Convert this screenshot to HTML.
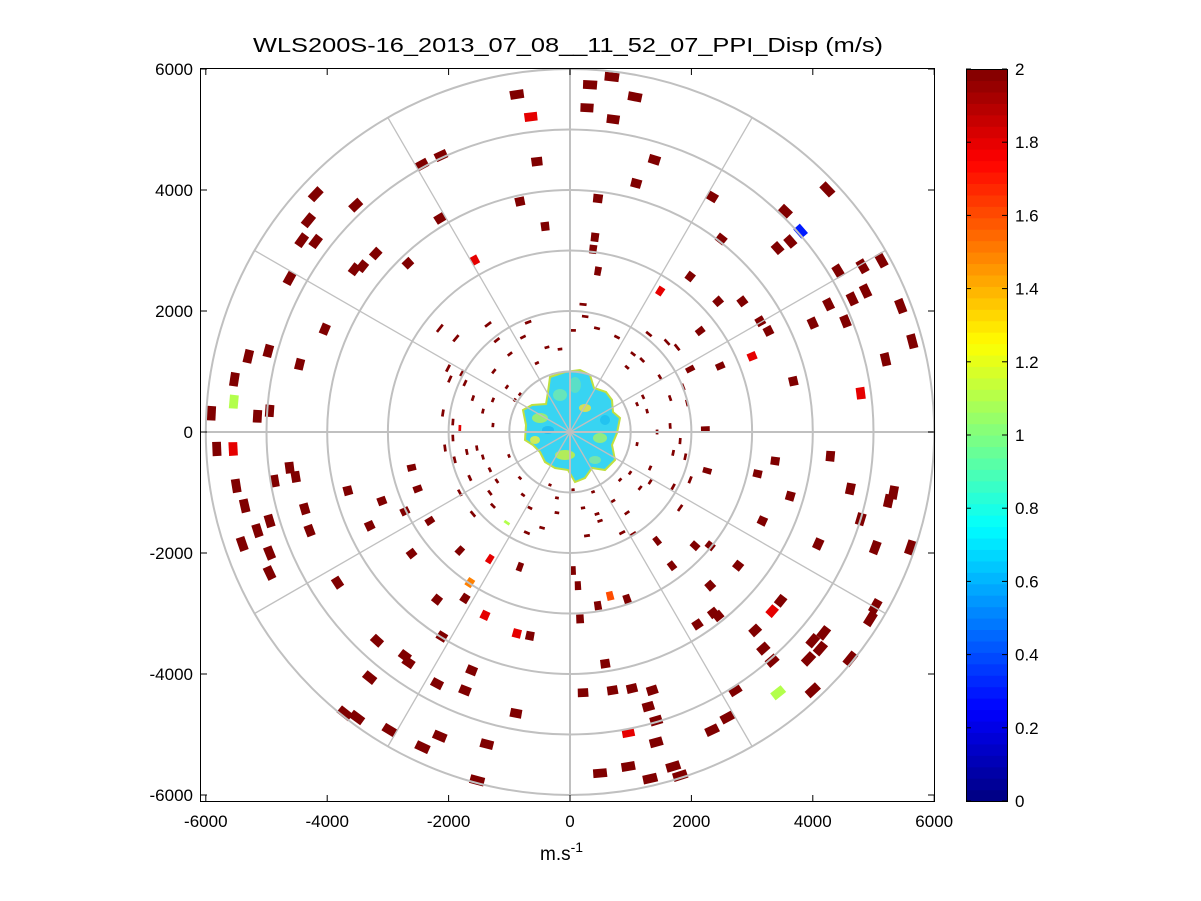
<!DOCTYPE html>
<html><head><meta charset="utf-8"><style>
body{margin:0;background:#fff;}
svg{display:block;font-family:"Liberation Sans",sans-serif;}
</style></head><body>
<svg id="chart" width="1201" height="901" viewBox="0 0 1201 901" xmlns="http://www.w3.org/2000/svg">
<rect width="1201" height="901" fill="#fff"/>
<text x="568" y="52" font-size="20" text-anchor="middle" textLength="630" lengthAdjust="spacingAndGlyphs">WLS200S-16_2013_07_08__11_52_07_PPI_Disp (m/s)</text>
<g id="blob"></g>
<g id="marks"></g>
<g id="grid2"></g>
<rect x="200.5" y="68.5" width="734" height="733" fill="none" stroke="#000" stroke-width="1"/>
<g id="axes"></g>
<text x="540" y="860" font-size="19">m.s<tspan dy="-8" font-size="14">-1</tspan></text>
<g id="cbar"></g>
</svg>
<script>
const xTicks=[-6000,-4000,-2000,0,2000,4000,6000];
const yTicks=[6000,4000,2000,0,-2000,-4000,-6000];
const cbTicks=[0,0.2,0.4,0.6,0.8,1,1.2,1.4,1.6,1.8,2];
const ringRadii=[1000,2000,3000,4000,5000,6000];
const spokeAngles=[0,30,60,90,120,150,180,210,240,270,300,330];
// outer cells: x (m), y (m), value (m/s)
const outerX=[-875,-645,330,690,280,1070,710,-545,1390,1090,-2440,-2125,-4190,-4310,-3530,-4420,-4190,-3200,-3420,-3550,-2670,-2145,-1570,-410,-825,460,410,380,460,2340,2490,1485,1980,4240,3550,3800,3630,3420,4420,4820,5130,4870,4650,4260,4000,4540,5450,5640,5200,4790,3680,3135,3270,3000,2475,1980,2145,2440,2840,-4620,-4040,-4455,-4970,-5300,-5530,-5540,-5910,-5150,-4950,-5820,-5550,-4620,-4520,-4870,-5500,-5360,-4950,-5150,-4370,-4290,-3660,-3300,-3100,-2610,-2510,-2720,-2310,-5400,-4950,-4950,-3830,-2610,-1815,-2190,-1730,-1400,-1650,-1320,-825,-2110,-3180,-2720,-2660,-3300,-2190,-1620,-1730,-875,-660,-890,-2145,-2430,-2970,-3710,-3510,-1370,-1530,495,960,1320,1700,1815,1420,1420,960,1355,1290,700,215,1020,580,165,660,460,50,130,940,2100,2360,2440,2310,1435,1680,2060,2310,2770,2720,2590,2340,3185,3050,3470,3330,3330,4000,4180,3930,4125,4000,4620,3430,4950,5030,5610,5030,4790,4620,5330,5250,4290,3380,3630,3090,3170,4090,2230,2260];
const outerY=[5580,5210,5740,5870,5360,5540,5170,4470,4500,4110,4420,4570,3930,3500,3750,3170,3150,2950,2740,2690,2790,3530,2840,3400,3810,3860,3220,3020,2660,3890,3190,2330,2570,4010,3650,3320,3150,3040,2660,2740,2840,2330,2200,2110,1800,1830,2080,1500,1200,640,840,1830,1670,1250,1090,1040,1670,2160,2160,2540,1700,1120,1340,1250,870,500,310,260,350,-280,-280,-590,-740,-810,-890,-1220,-1470,-1630,-1270,-1630,-970,-1550,-1140,-590,-940,-1310,-1470,-1850,-2000,-2330,-2490,-2010,-1960,-2770,-2750,-3030,-2490,-2100,-2230,-3380,-3450,-3700,-3810,-4060,-4160,-3940,-4270,-3330,-3370,-4650,-5030,-5210,-4930,-4650,-4720,-5160,-5760,-5640,-5530,-5730,-5530,-5680,-5130,-4770,-4970,-4270,-4540,-4270,-4310,-4240,-3830,-3090,-2710,-2870,-2290,-2540,-2760,-3180,-2990,-3040,-2540,-1800,-2210,-1880,-1880,-2210,-4270,-4720,-4930,-3580,-3280,-2790,-2960,-3780,-3450,-3320,-3750,-3580,-4270,-3750,-4310,-3090,-2880,-1910,-1910,-1440,-940,-1000,-1140,-400,-480,-1060,-690,-1470,-1850,50,-640];
const outerV=[2,1.8,2,2,2,2,2,2,2,2,2,2,2,2,2,2,2,2,2,2,2,2,1.8,2,2,2,2,2,2,2,2,1.8,2,2,2,0.3,2,2,2,2,2,2,2,2,2,2,2,2,2,1.8,2,2,2,1.8,2,2,2,2,2,2,2,2,2,2,2,1.1,2,2,2,2,1.8,2,2,2,2,2,2,2,2,2,2,2,2,2,2,2,2,2,2,2,2,2,2,2,2,1.8,1.5,1.8,2,2,2,2,2,2,2,2,2,1.8,2,2,2,2,2,2,2,2,2,2,2,2,2,2,2,2,1.8,2,2,2,2,2,2,2,1.6,2,2,2,2,2,2,2,2,2,2,2,2,2,2,2,2,2,2,2,1.8,2,2,2,2,2,2,2,1.1,2,2,2,2,2,2,2,2,2,2,2,2,2,2,2,2,2,2];
// inner cells
const innerX=[-1350,-690,215,250,1300,1600,1765,1040,1190,-1780,-1980,-1600,-1435,-1270,-1930,-2060,-1535,-1005,-1650,-1205,-825,-660,-460,-215,215,445,710,1155,1320,1105,1650,1815,1270,1650,1865,445,-165,-990,-1255,-825,1105,280,495,1040,1815,-1270,-1815,-1600,-1040,860,
 -2145,-1880,-2010,-1730,-2095,-1930,-1815,-1270,-1040,-910,-1435,-1700,-1900,-1320,-775,-330,50,380,825,990,1320,1700,1900,1435,1205,1930,1485,940,775,50,-380,-775,-1205,-545,940,-215,-710,-1320,1700,1980];
const innerY=[1780,1815,2110,1910,1620,1485,1400,1290,1190,975,875,560,345,115,-100,-265,-265,-395,-760,-810,-760,-1255,-1585,-1090,-1255,-1355,-1140,-925,-595,-200,100,-150,345,560,745,1715,1370,1290,1005,625,460,-1715,-1470,-1685,-1255,-1220,-1005,-1355,-1500,-1665,
 1715,1550,1055,810,315,165,65,530,745,530,-415,-330,-460,-625,-1040,-875,-955,-990,-790,-675,-825,-345,-410,0,580,480,905,1070,1570,1680,1400,1570,1520,1140,-1335,-1335,-1665,-1005,-905,-790];
const innerV=[2,2,2,2,2,2,2,2,2,2,2,2,2,2,2,2,2,2,2,2,2,2,2,2,2,2,2,2,2,2,2,2,2,2,2,2,2,2,2,2,2,2,2,2,2,2,2,2,1.1,2,
 2,2,2,2,2,2,1.8,2,2,2,2,2,2,2,2,2,2,2,2,2,2,2,2,2,2,2,2,2,2,2,2,2,2,2,2,2,2,2,2,2];

const CX=570,CY=432,SX=0.0607,SY=0.0605;
const px=x=>CX+x*SX, py=y=>CY-y*SY;
const NS='http://www.w3.org/2000/svg';
function mk(t,a,p){const e=document.createElementNS(NS,t);for(const k in a)e.setAttribute(k,a[k]);p.appendChild(e);return e;}
function jet(v){let t=Math.max(0,Math.min(1,v/2));
 const f=(x)=>Math.max(0,Math.min(1,1.5-Math.abs(4*t-x)));
 return `rgb(${Math.round(255*f(3))},${Math.round(255*f(2))},${Math.round(255*f(1))})`;}

const grid2=document.getElementById('grid2');
ringRadii.forEach(r=>{const c=mk('ellipse',{cx:CX,cy:CY,rx:r*SX,ry:r*SY,fill:'none',stroke:'#c0c0c0','stroke-width':2},grid2);
 });
spokeAngles.forEach(a=>{const R=6000,rad=a*Math.PI/180;const main=a%90===0;
 const l=mk('line',{x1:CX,y1:CY,x2:px(R*Math.cos(rad)),y2:py(R*Math.sin(rad)),stroke:'#c0c0c0','stroke-width':main?2:1.3},grid2);
 });

function cell(x,y,v,dR,dAzDeg,parent){const r=Math.hypot(x,y),az=Math.atan2(y,x),da=dAzDeg*Math.PI/360;
 const pts=[[r-dR/2,az-da],[r+dR/2,az-da],[r+dR/2,az+da],[r-dR/2,az+da]].map(([rr,aa])=>px(rr*Math.cos(aa)).toFixed(1)+','+py(rr*Math.sin(aa)).toFixed(1)).join(' ');
 const p=mk('polygon',{points:pts,fill:jet(v)},parent);
 }
const marks=document.getElementById('marks');
outerX.forEach((x,i)=>cell(x,outerY[i],outerV[i],145,2.3,marks));
innerX.forEach((x,i)=>cell(x,innerY[i],innerV[i],45,3.2,marks));

// near-range blob
const blob=document.getElementById('blob');
const bp=mk('path',{d:'M550,377 L565,372 L580,370 L590,375 L594,388 L606,392 L612,400 L613,412 L620,418 L617,433 L612,445 L615,460 L605,470 L592,468 L585,478 L575,482 L568,470 L555,468 L545,462 L540,452 L533,445 L525,440 L526,425 L523,410 L532,405 L546,404 L548,392 Z',fill:'#38d4f2',stroke:'#c0e040','stroke-width':2},blob);

[[540,418,8,5,'#a8f060'],[600,438,7,5,'#a0f070'],[565,455,10,5,'#c8f040'],[585,408,6,4,'#f0e040'],[560,395,7,6,'#70e8b0'],[595,460,6,4,'#80e8a0'],[535,440,5,4,'#e8f040'],[575,385,6,8,'#60e0c0'],[548,430,6,4,'#20b8f0'],[605,420,5,5,'#20c0f0']].forEach(([x,y,rx,ry,c])=>{
 const e=mk('ellipse',{cx:x,cy:y,rx:rx,ry:ry,fill:c,opacity:0.85},blob);
 });

// axes
const ax=document.getElementById('axes');
xTicks.forEach(v=>{const x=px(v);
 mk('line',{x1:x,y1:802,x2:x,y2:795,stroke:'#000'},ax);mk('line',{x1:x,y1:68,x2:x,y2:75,stroke:'#000'},ax);
 const t=mk('text',{x:x,y:827,'font-size':17,'text-anchor':'middle'},ax);t.textContent=v;
 });
yTicks.forEach(v=>{const y=py(v);
 mk('line',{x1:200,y1:y,x2:207,y2:y,stroke:'#000'},ax);mk('line',{x1:935,y1:y,x2:928,y2:y,stroke:'#000'},ax);
 const t=mk('text',{x:193,y:y+6,'font-size':17,'text-anchor':'end'},ax);t.textContent=v;
 });

// colorbar
const cb=document.getElementById('cbar');const X0=966,X1=1007,Y0=69,Y1=801,N=64;
for(let i=0;i<N;i++){const y=Y1-(i+1)*(Y1-Y0)/N;
 const r=mk('rect',{x:X0,y:y.toFixed(2),width:X1-X0,height:((Y1-Y0)/N+0.6).toFixed(2),fill:jet((i+0.5)/N*2)},cb);
 }
mk('rect',{x:X0+0.5,y:Y0+0.5,width:X1-X0,height:Y1-Y0,fill:'none',stroke:'#000'},cb);
cbTicks.forEach(v=>{const y=Y1-v/2*(Y1-Y0);
 mk('line',{x1:X0,y1:y,x2:X0+5,y2:y,stroke:'#000'},cb);mk('line',{x1:X1,y1:y,x2:X1-5,y2:y,stroke:'#000'},cb);
 const t=mk('text',{x:1015,y:y+6,'font-size':17},cb);t.textContent=String(v);
 });
</script>
</body></html>
